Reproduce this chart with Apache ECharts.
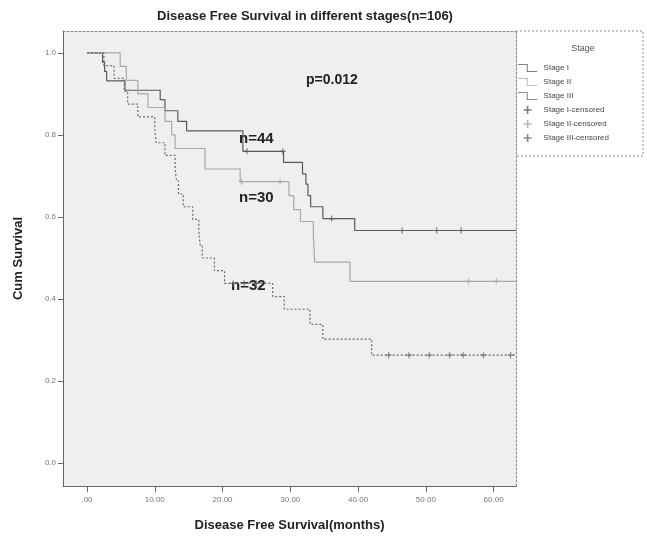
<!DOCTYPE html>
<html>
<head>
<meta charset="utf-8">
<style>
  html, body { margin: 0; padding: 0; background: #fff; }
  #main { width: 647px; height: 537px; }
</style>
<script src="https://cdn.jsdelivr.net/npm/echarts@6/dist/echarts.min.js"></script>
</head>
<body>
<div id="main"></div>
<script>
// axis ticks
const xTicks = [0, 10, 20, 30, 40, 50, 60]
const xTickLabels = ['.00', '10.00', '20.00', '30.00', '40.00', '50.00', '60.00']
const yTicks = [0, 0.2, 0.4, 0.6, 0.8, 1.0]
const yTickLabels = ['0.0', '0.2', '0.4', '0.6', '0.8', '1.0']

// Stage I (n=44)
const stage1Time = [0, 2.3, 2.6, 2.9, 5.6, 10.8, 11.5, 13.4, 14.7, 23.0, 29.0, 31.8, 32.3, 32.6, 33.0, 34.8, 39.5, 63.3]
const stage1Surv = [1, 0.977, 0.955, 0.932, 0.909, 0.886, 0.859, 0.833, 0.81, 0.76, 0.733, 0.705, 0.68, 0.652, 0.625, 0.596, 0.567, 0.567]
const stage1CensTime = [23.6, 28.9, 36.1, 46.5, 51.6, 55.2]
const stage1CensSurv = [0.76, 0.76, 0.596, 0.567, 0.567, 0.567]

// Stage II (n=30)
const stage2Time = [0, 4.9, 5.8, 7.5, 9.0, 11.5, 12.5, 13.0, 17.4, 22.6, 29.8, 30.5, 31.5, 33.4, 33.5, 33.6, 38.8, 63.3]
const stage2Surv = [1, 0.967, 0.933, 0.9, 0.867, 0.833, 0.8, 0.767, 0.717, 0.686, 0.652, 0.618, 0.589, 0.556, 0.522, 0.49, 0.443, 0.443]
const stage2CensTime = [22.8, 28.5, 56.3, 60.4]
const stage2CensSurv = [0.686, 0.686, 0.443, 0.443]

// Stage III (n=32)
const stage3Time = [0, 2.5, 4.0, 5.5, 6.0, 7.5, 10.0, 10.2, 11.5, 13.0, 13.2, 13.5, 14.2, 15.6, 16.5, 16.7, 17.0, 18.8, 20.3, 27.4, 29.1, 32.9, 34.8, 42.0, 63.3]
const stage3Surv = [1, 0.969, 0.938, 0.906, 0.875, 0.844, 0.813, 0.781, 0.75, 0.719, 0.688, 0.656, 0.625, 0.594, 0.563, 0.531, 0.5, 0.469, 0.438, 0.406, 0.375, 0.338, 0.302, 0.263, 0.263]
const stage3CensTime = [21.6, 23.2, 25.0, 44.5, 47.5, 50.5, 53.5, 55.5, 58.5, 62.5]
const stage3CensSurv = [0.438, 0.438, 0.438, 0.263, 0.263, 0.263, 0.263, 0.263, 0.263, 0.263]

const pair = (xs, ys) => xs.map((x, i) => [x, ys[i]])
const plus = 'path://M4,0h2v10h-2z M0,4h10v2h-10z'
const stepIcon = 'path://M0,0h12v9h12v1h-13v-9h-11z'

const chartInstance = echarts.init(document.getElementById('main'))

const lineSeries = (name, xs, ys, color, type) => ({
  name: name,
  type: 'line',
  step: 'end',
  showSymbol: false,
  symbol: 'none',
  data: pair(xs, ys),
  lineStyle: { color: color, width: 1.2, type: type },
  itemStyle: { color: color },
  z: 3,
})

const censSeries = (name, xs, ys, color) => ({
  name: name,
  type: 'scatter',
  symbol: plus,
  symbolSize: 6,
  data: pair(xs, ys),
  itemStyle: { color: color },
  z: 4,
})

const sideAxis = (pos) => ({
  type: 'value',
  position: pos,
  axisLine: { show: true, onZero: false, lineStyle: { color: '#888', type: [2, 2] } },
  axisTick: { show: false },
  axisLabel: { show: false },
  splitLine: { show: false },
})

const option = {
  backgroundColor: '#fff',
  animation: false,
  textStyle: { fontFamily: 'Liberation Sans, Arial, sans-serif' },
  title: [
    {
      text: 'Disease Free Survival in different stages(n=106)',
      left: 300,
      textAlign: 'center',
      top: 5,
      textStyle: { fontSize: 13, fontWeight: 'bold', color: '#222' },
    },
    {
      text: 'Stage',
      left: 578,
      textAlign: 'center',
      top: 39,
      textStyle: { fontSize: 9, fontWeight: 'normal', color: '#555' },
    },
  ],
  legend: {
    orient: 'vertical',
    left: 518,
    top: 64,
    padding: 0,
    itemGap: 6,
    itemWidth: 22,
    itemHeight: 8,
    textStyle: { fontSize: 8, color: '#444' },
    data: [
      { name: 'Stage I', icon: stepIcon },
      { name: 'Stage II', icon: stepIcon },
      { name: 'Stage III', icon: stepIcon },
      { name: 'Stage I-censored', icon: plus },
      { name: 'Stage II-censored', icon: plus },
      { name: 'Stage III-censored', icon: plus },
    ],
  },
  grid: {
    left: 63,
    top: 31,
    right: 131,
    bottom: 50,
    show: true,
    backgroundColor: '#efefef',
    borderWidth: 0,
  },
  xAxis: [
    {
      type: 'value',
      min: -3.54,
      max: 63.3,
      name: 'Disease Free Survival(months)',
      nameLocation: 'middle',
      nameGap: 33,
      nameTextStyle: { fontSize: 13, fontWeight: 'bold', color: '#222' },
      axisLine: { show: true, onZero: false, lineStyle: { color: '#666', width: 1 } },
      axisTick: { show: true, customValues: xTicks, length: 6, lineStyle: { color: '#666' } },
      axisLabel: {
        customValues: xTicks,
        fontSize: 8,
        color: '#777',
        margin: 10,
        formatter: (v) => xTickLabels[xTicks.indexOf(Math.round(v))] || '',
      },
      splitLine: { show: false },
    },
    Object.assign(sideAxis('top'), { min: -3.54, max: 63.3 }),
  ],
  yAxis: [
    {
      type: 'value',
      min: -0.056,
      max: 1.0535,
      name: 'Cum Survival',
      nameLocation: 'middle',
      nameGap: 38,
      nameTextStyle: { fontSize: 13, fontWeight: 'bold', color: '#222' },
      axisLine: { show: true, onZero: false, lineStyle: { color: '#666', width: 1 } },
      axisTick: { show: true, customValues: yTicks, length: 5, lineStyle: { color: '#666' } },
      axisLabel: {
        customValues: yTicks,
        fontSize: 8,
        color: '#777',
        margin: 7,
        formatter: (v) => yTickLabels[yTicks.indexOf(Math.round(v * 10) / 10)] || '',
      },
      splitLine: { show: false },
    },
    Object.assign(sideAxis('right'), { min: -0.056, max: 1.0535 }),
  ],
  graphic: [
    {
      type: 'rect',
      shape: { x: 516, y: 31, width: 127, height: 125 },
      style: { fill: '#fff', stroke: '#888', lineWidth: 1, lineDash: [2, 2] },
      z: -1,
    },
    {
      type: 'text',
      left: 306,
      top: 73,
      style: { text: 'p=0.012', font: 'bold 14px Liberation Sans, Arial, sans-serif', fill: '#222' },
    },
    {
      type: 'text',
      left: 239,
      top: 131,
      style: { text: 'n=44', font: 'bold 15px Liberation Sans, Arial, sans-serif', fill: '#222' },
    },
    {
      type: 'text',
      left: 239,
      top: 190,
      style: { text: 'n=30', font: 'bold 15px Liberation Sans, Arial, sans-serif', fill: '#222' },
    },
    {
      type: 'text',
      left: 231,
      top: 278,
      style: { text: 'n=32', font: 'bold 15px Liberation Sans, Arial, sans-serif', fill: '#222' },
    },
  ],
  series: [
    lineSeries('Stage I', stage1Time, stage1Surv, '#5a5a5a', 'solid'),
    lineSeries('Stage II', stage2Time, stage2Surv, '#a8a8a8', 'solid'),
    lineSeries('Stage III', stage3Time, stage3Surv, '#6a6a6a', [2, 2]),
    censSeries('Stage I-censored', stage1CensTime, stage1CensSurv, '#5a5a5a'),
    censSeries('Stage II-censored', stage2CensTime, stage2CensSurv, '#a8a8a8'),
    censSeries('Stage III-censored', stage3CensTime, stage3CensSurv, '#6a6a6a'),
  ],
}

chartInstance.setOption(option)
</script>
</body>
</html>
